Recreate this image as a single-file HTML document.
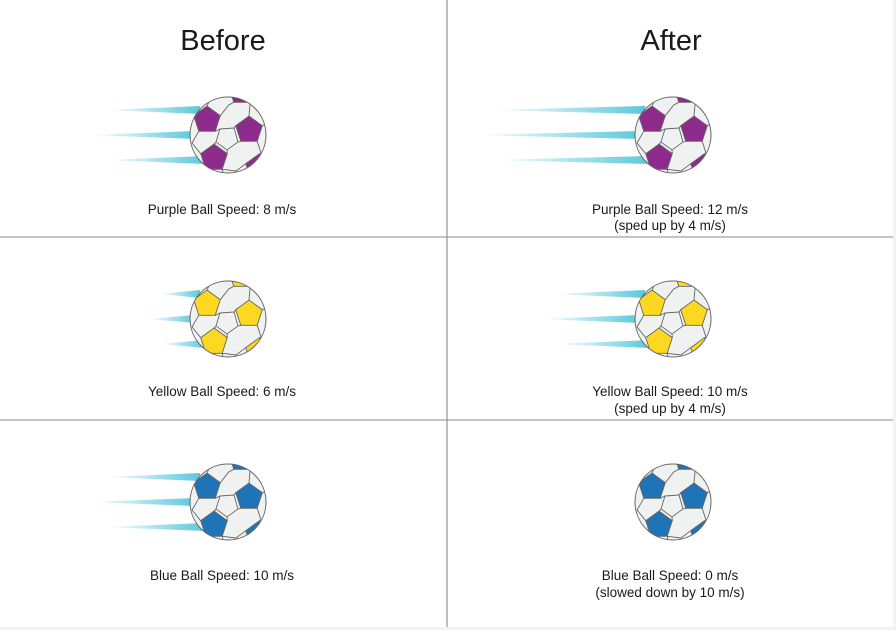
<!DOCTYPE html>
<html><head><meta charset="utf-8"><style>
html,body{margin:0;padding:0;background:#f3f3f3}
svg{display:block}
text{font-family:"Liberation Sans",sans-serif;fill:#1a1a1a}
</style></head><body>
<svg width="896" height="630" viewBox="0 0 896 630" xmlns="http://www.w3.org/2000/svg">
<defs>
<linearGradient id="sg" x1="0" x2="1" y1="0" y2="0">
<stop offset="0" stop-color="#5bc8dc" stop-opacity="0"/>
<stop offset="1" stop-color="#5bc8dc" stop-opacity="1"/>
</linearGradient>
<clipPath id="bc"><circle cx="0" cy="0" r="38"/></clipPath>
<g id="lines" fill="none" stroke="#666" stroke-width="0.9">
<polygon points="-8,-6 6,-7 10,7 -1,15 -12,7"/>
<path d="M-8,-6 L-12.8,-3.7 M6,-7 L7.7,-9.3 M10,7 L12.8,6.3 M-1,15 L-0.7,18.7 M-12,7 L-14,9"/>
<path d="M-7.7,-19.3 L0.7,-30 L5.8,-32.7 M21,-19 L22.2,-32.7 M34.3,-9.3 L40,-12 M29.2,6.3 L33,18 L31,19 M17.7,28.7 L8,36 L-5.8,34.3 M-29.2,-3.7 L-36,8 L-27.3,18.7 M-34.3,-19.3 L-40,-22 M-22.2,34.3 L-26,42 M-5.8,34.3 L-4,42 M-21,-29 L-16,-40"/>
</g>
<g id="pents" stroke="#666" stroke-width="0.9">
<polygon points="-21,-29 -7.7,-19.3 -12.8,-3.7 -29.2,-3.7 -34.3,-19.3"/>
<polygon points="21,-19 34.3,-9.3 29.2,6.3 12.8,6.3 7.7,-9.3"/>
<polygon points="-14,9 -0.7,18.7 -5.8,34.3 -22.2,34.3 -27.3,18.7"/>
<polygon points="14,-58 27.3,-48.3 22.2,-32.7 5.8,-32.7 0.7,-48.3"/>
<polygon points="31,19 44.3,28.7 39.2,44.3 22.8,44.3 17.7,28.7"/>
</g>
</defs>
<rect x="0" y="0" width="893" height="627" fill="#fff"/>
<line x1="447" y1="0" x2="447" y2="627" stroke="#a8a8a8" stroke-width="1.5"/>
<line x1="0" y1="237" x2="893" y2="237" stroke="#8a8a8a" stroke-width="1"/>
<line x1="0" y1="420" x2="893" y2="420" stroke="#8a8a8a" stroke-width="1"/>
<text x="223" y="50" font-size="29" text-anchor="middle">Before</text>
<text x="671" y="50" font-size="29" text-anchor="middle">After</text>

<g fill="url(#sg)">
<polygon points="105,110 200,106 200,114"/>
<polygon points="90,135 195,131 195,139"/>
<polygon points="105,160 205,156 205,164"/>
<polygon points="490,110 645,106 645,114"/>
<polygon points="473,135 640,131 640,139"/>
<polygon points="490,160 650,156 650,164"/>
<polygon points="160,294 200,290 200,298"/>
<polygon points="148,319 195,315 195,323"/>
<polygon points="160,344 205,340 205,348"/>
<polygon points="553,294 645,290 645,298"/>
<polygon points="540,319 640,315 640,323"/>
<polygon points="553,344 650,340 650,348"/>
<polygon points="105,477 200,473 200,481"/>
<polygon points="90,502 195,498 195,506"/>
<polygon points="105,527 205,523 205,531"/>
</g>

<g transform="translate(228,135)"><circle r="38" fill="#f0f1f1"/><g clip-path="url(#bc)"><use href="#lines"/><g fill="#8e2a8c"><use href="#pents"/></g></g><circle r="38" fill="none" stroke="#666" stroke-width="1"/></g>
<g transform="translate(673,135)"><circle r="38" fill="#f0f1f1"/><g clip-path="url(#bc)"><use href="#lines"/><g fill="#8e2a8c"><use href="#pents"/></g></g><circle r="38" fill="none" stroke="#666" stroke-width="1"/></g>
<g transform="translate(228,319)"><circle r="38" fill="#f0f1f1"/><g clip-path="url(#bc)"><use href="#lines"/><g fill="#fcd920"><use href="#pents"/></g></g><circle r="38" fill="none" stroke="#666" stroke-width="1"/></g>
<g transform="translate(673,319)"><circle r="38" fill="#f0f1f1"/><g clip-path="url(#bc)"><use href="#lines"/><g fill="#fcd920"><use href="#pents"/></g></g><circle r="38" fill="none" stroke="#666" stroke-width="1"/></g>
<g transform="translate(228,502)"><circle r="38" fill="#f0f1f1"/><g clip-path="url(#bc)"><use href="#lines"/><g fill="#1f73b7"><use href="#pents"/></g></g><circle r="38" fill="none" stroke="#666" stroke-width="1"/></g>
<g transform="translate(673,502)"><circle r="38" fill="#f0f1f1"/><g clip-path="url(#bc)"><use href="#lines"/><g fill="#1f73b7"><use href="#pents"/></g></g><circle r="38" fill="none" stroke="#666" stroke-width="1"/></g>

<g font-size="13.5" text-anchor="middle">
<text x="222" y="214">Purple Ball Speed: 8 m/s</text>
<text x="670" y="214">Purple Ball Speed: 12 m/s</text>
<text x="670" y="230">(sped up by 4 m/s)</text>
<text x="222" y="396">Yellow Ball Speed: 6 m/s</text>
<text x="670" y="396">Yellow Ball Speed: 10 m/s</text>
<text x="670" y="413">(sped up by 4 m/s)</text>
<text x="222" y="580">Blue Ball Speed: 10 m/s</text>
<text x="670" y="580">Blue Ball Speed: 0 m/s</text>
<text x="670" y="597">(slowed down by 10 m/s)</text>
</g>
</svg>
</body></html>
